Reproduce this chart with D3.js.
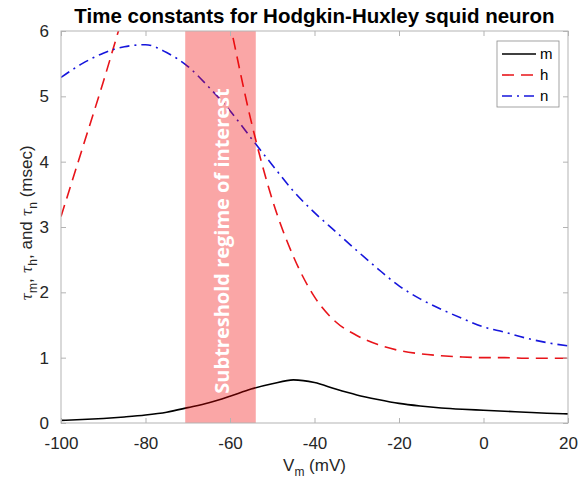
<!DOCTYPE html>
<html lang="en">
<head>
<meta charset="UTF-8">
<title>Time constants for Hodgkin-Huxley squid neuron</title>
<style>
  body { margin: 0; background: #fff; overflow: hidden; }
  svg { display: block; font-family: "Liberation Sans", Arial, sans-serif; }
</style>
</head>
<body>
<svg width="582" height="480"></svg>
<script src="https://d3js.org/d3.v7.min.js"></script>
<script>
// membrane potential samples (mV)
const voltage = [-100, -95, -90, -85, -80, -75, -70, -65, -60, -55, -50, -45, -40,
                 -35, -30, -25, -20, -15, -10, -5, 0, 5, 10, 15, 20];
// time constants (msec); h goes off the top near -70
const tauM = [0.04, 0.053, 0.07, 0.093, 0.122, 0.165, 0.235, 0.31, 0.41, 0.52, 0.60, 0.66, 0.62,
              0.52, 0.43, 0.36, 0.30, 0.26, 0.23, 0.21, 0.195, 0.18, 0.165, 0.15, 0.14];
const tauH = [3.16, 4.19, 5.22, 6.30, 7.30, 8.10, 8.30, 7.70, 6.12, 4.62, 3.42, 2.55, 1.93,
              1.55, 1.34, 1.20, 1.11, 1.06, 1.03, 1.01, 1.00, 1.00, 0.99, 0.99, 0.99];
const tauN = [5.29, 5.50, 5.66, 5.76, 5.79, 5.67, 5.46, 5.14, 4.78, 4.36, 3.95, 3.55, 3.22,
              2.93, 2.64, 2.36, 2.10, 1.90, 1.74, 1.60, 1.47, 1.39, 1.30, 1.23, 1.18];
const seriesNames = ["m", "h", "n"];
const bandRange = [-70.6, -53.9];
const xTicks = [-100, -80, -60, -40, -20, 0, 20];
const yTicks = [0, 1, 2, 3, 4, 5, 6];

const svg = d3.select("svg");
const W = 582, H = 480;
const margin = { top: 31, right: 14, bottom: 57, left: 61 };
const iw = W - margin.left - margin.right;
const ih = H - margin.top - margin.bottom;

svg.append("rect").attr("width", W).attr("height", H).attr("fill", "#fff");

const x = d3.scaleLinear().domain([-100, 20]).range([0, iw]);
const y = d3.scaleLinear().domain([0, 6]).range([ih, 0]);

const g = svg.append("g").attr("transform", `translate(${margin.left},${margin.top})`);

g.append("clipPath").attr("id", "plot-clip")
  .append("rect").attr("width", iw).attr("height", ih);

const styles = [
  { data: tauM, color: "#000000", dash: null },
  { data: tauH, color: "#e8141a", dash: "12,7" },
  { data: tauN, color: "#1616dc", dash: "10,5,2,5" }
];

const line = d3.line()
  .x(d => x(d[0]))
  .y(d => y(d[1]))
  .curve(d3.curveMonotoneX);

const curves = g.append("g").attr("clip-path", "url(#plot-clip)");
styles.forEach(s => {
  curves.append("path")
    .datum(voltage.map((v, i) => [v, s.data[i]]))
    .attr("fill", "none")
    .attr("stroke", s.color)
    .attr("stroke-width", 1.6)
    .attr("stroke-dasharray", s.dash)
    .attr("d", line);
});

// shaded subthreshold band, drawn over the curves
g.append("rect")
  .attr("x", x(bandRange[0]))
  .attr("width", x(bandRange[1]) - x(bandRange[0]))
  .attr("y", 0)
  .attr("height", ih)
  .attr("fill", "#f20000")
  .attr("fill-opacity", 0.35);

g.append("text")
  .attr("transform", `translate(${(x(bandRange[0]) + x(bandRange[1])) / 2 + 9},${210}) rotate(-90)`)
  .attr("text-anchor", "middle")
  .attr("fill", "#fff")
  .style("font-family", "'Open Sans', sans-serif")
  .style("font-weight", "bold")
  .style("font-size", "20px")
  .text("Subtreshold regime of interest");

// axes box with inward ticks on all sides
const axisColor = "#b3b3b3";
const styleAxis = sel => {
  sel.select(".domain").remove();
  sel.selectAll(".tick line").attr("stroke", axisColor);
  sel.selectAll(".tick text").attr("fill", "#262626").style("font-size", "17px");
};

g.append("g").attr("transform", `translate(0,${ih})`)
  .call(d3.axisBottom(x).tickValues(xTicks).tickSizeInner(-5).tickSizeOuter(0).tickPadding(14).tickFormat(d => String(d)))
  .call(styleAxis);
g.append("g")
  .call(d3.axisTop(x).tickValues(xTicks).tickSizeInner(-5).tickSizeOuter(0).tickFormat(""))
  .call(styleAxis);
g.append("g")
  .call(d3.axisLeft(y).tickValues(yTicks).tickSizeInner(-5).tickSizeOuter(0).tickPadding(12).tickFormat(d => String(d)))
  .call(styleAxis);
g.append("g").attr("transform", `translate(${iw},0)`)
  .call(d3.axisRight(y).tickValues(yTicks).tickSizeInner(-5).tickSizeOuter(0).tickFormat(""))
  .call(styleAxis);

g.append("rect")
  .attr("width", iw).attr("height", ih)
  .attr("fill", "none").attr("stroke", axisColor).attr("stroke-width", 1);

// legend
const leg = svg.append("g").attr("transform", "translate(497,41)");
leg.append("rect").attr("width", 62).attr("height", 66)
  .attr("fill", "#fff").attr("stroke", "#8c8c8c").attr("stroke-width", 0.8);
seriesNames.forEach((name, i) => {
  const ly = 13 + i * 21;
  leg.append("line")
    .attr("x1", 5).attr("x2", 39).attr("y1", ly).attr("y2", ly)
    .attr("stroke", styles[i].color).attr("stroke-width", 1.6)
    .attr("stroke-dasharray", styles[i].dash);
  leg.append("text").attr("x", 43).attr("y", ly + 5)
    .style("font-size", "15px").attr("fill", "#000").text(name);
});

// title
svg.append("text")
  .attr("x", margin.left + iw / 2).attr("y", 23)
  .attr("text-anchor", "middle")
  .style("font-weight", "bold").style("font-size", "20.5px")
  .attr("fill", "#000")
  .text("Time constants for Hodgkin-Huxley squid neuron");

// x label
const xl = svg.append("text")
  .attr("x", margin.left + iw / 2).attr("y", 471)
  .attr("text-anchor", "middle")
  .style("font-size", "17px").attr("fill", "#262626");
xl.append("tspan").text("V");
xl.append("tspan").attr("dy", 5).style("font-size", "12px").text("m");
xl.append("tspan").attr("dy", -5).text(" (mV)");

// y label
const yl = svg.append("text")
  .attr("transform", `translate(32,${223}) rotate(-90)`)
  .attr("text-anchor", "middle")
  .style("font-size", "17px").attr("fill", "#262626");
const sub = (s, rest) => {
  yl.append("tspan").style("font-family", "'DejaVu Serif', serif").style("font-style", "italic")
    .style("font-size", "14px").text("\u03c4");
  yl.append("tspan").attr("dy", 5).style("font-size", "12px").text(s);
  yl.append("tspan").attr("dy", -5).text(rest);
};
sub("m", ", ");
sub("h", ", and ");
sub("n", " (msec)");
</script>
</body>
</html>
